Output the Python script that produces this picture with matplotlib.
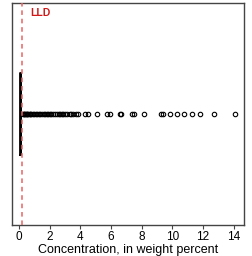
import matplotlib
matplotlib.use("Agg")
import matplotlib.pyplot as plt

# ---------------------------------------------------------------------------
# Data
# ---------------------------------------------------------------------------

LLD = 0.2                     # lower limit of determination, weight percent

# quartiles are squeezed against zero, so the box collapses to a line
Q1, MEDIAN, Q3 = 0.09, 0.11, 0.13
WHISK_LO, WHISK_HI = 0.05, 0.2

OUTLIERS = [
    0.25, 0.3, 0.35, 0.4, 0.45, 0.5, 0.55, 0.6, 0.7, 0.75, 0.8, 0.9,
    1.0, 1.1, 1.2, 1.3, 1.4, 1.5, 1.6, 1.7, 1.8, 1.9, 2.0, 2.1, 2.2,
    2.35, 2.5, 2.6, 2.7, 2.8, 2.9, 3.0, 3.15, 3.3, 3.4, 3.55, 3.7, 3.85,
    4.28, 4.48, 5.10, 5.72, 5.92, 6.60, 6.67, 7.35, 7.48, 8.16,
    9.25, 9.38, 9.84, 10.29, 10.75, 11.31, 11.83, 12.71, 14.08,
]

X_TICKS = [0, 2, 4, 6, 8, 10, 12, 14]
X_LABEL = "Concentration, in weight percent"

C_LLD_LINE = "#e86464"
C_LLD_TEXT = "#d01818"
C_FRAME    = "#444444"

plt.rcParams["font.family"] = ["Liberation Sans", "DejaVu Sans"]

fig = plt.figure(figsize=(2.52, 2.56), dpi=100)
ax = fig.add_axes([0.048, 0.121, 0.92, 0.867])

stats = [{
    "med": MEDIAN, "q1": Q1, "q3": Q3,
    "whislo": WHISK_LO, "whishi": WHISK_HI,
    "fliers": OUTLIERS,
}]
ax.bxp(
    stats, positions=[1], widths=0.37, orientation="horizontal",
    showcaps=False,
    boxprops={"color": "black", "linewidth": 1.3},
    medianprops={"color": "black", "linewidth": 1.3},
    whiskerprops={"color": "black", "linewidth": 1.0},
    flierprops={"marker": "o", "markersize": 3.2, "markerfacecolor": "none",
                "markeredgecolor": "black", "markeredgewidth": 0.8,
                "linestyle": "none"},
)

ax.axvline(LLD, color=C_LLD_LINE, linestyle=(0, (3, 2.5)), linewidth=1.1, zorder=3)
ax.text(0.078, 0.977, "LLD", transform=ax.transAxes, color=C_LLD_TEXT,
        fontsize=7.5, fontweight="bold", ha="left", va="top")

ax.set_xlim(-0.45, 14.67)
ax.set_ylim(0.5, 1.5)
ax.set_xticks(X_TICKS)
ax.set_xticklabels([str(t) for t in X_TICKS])
ax.set_yticks([])
ax.tick_params(axis="x", direction="out", length=3, width=0.8,
               labelsize=8.5, pad=1.5, color=C_FRAME)
ax.set_xlabel(X_LABEL, fontsize=9, labelpad=0.5)

for side in ["top", "right", "bottom", "left"]:
    ax.spines[side].set_color(C_FRAME)
    ax.spines[side].set_linewidth(1.0)

fig.savefig("out.png", dpi=100)
